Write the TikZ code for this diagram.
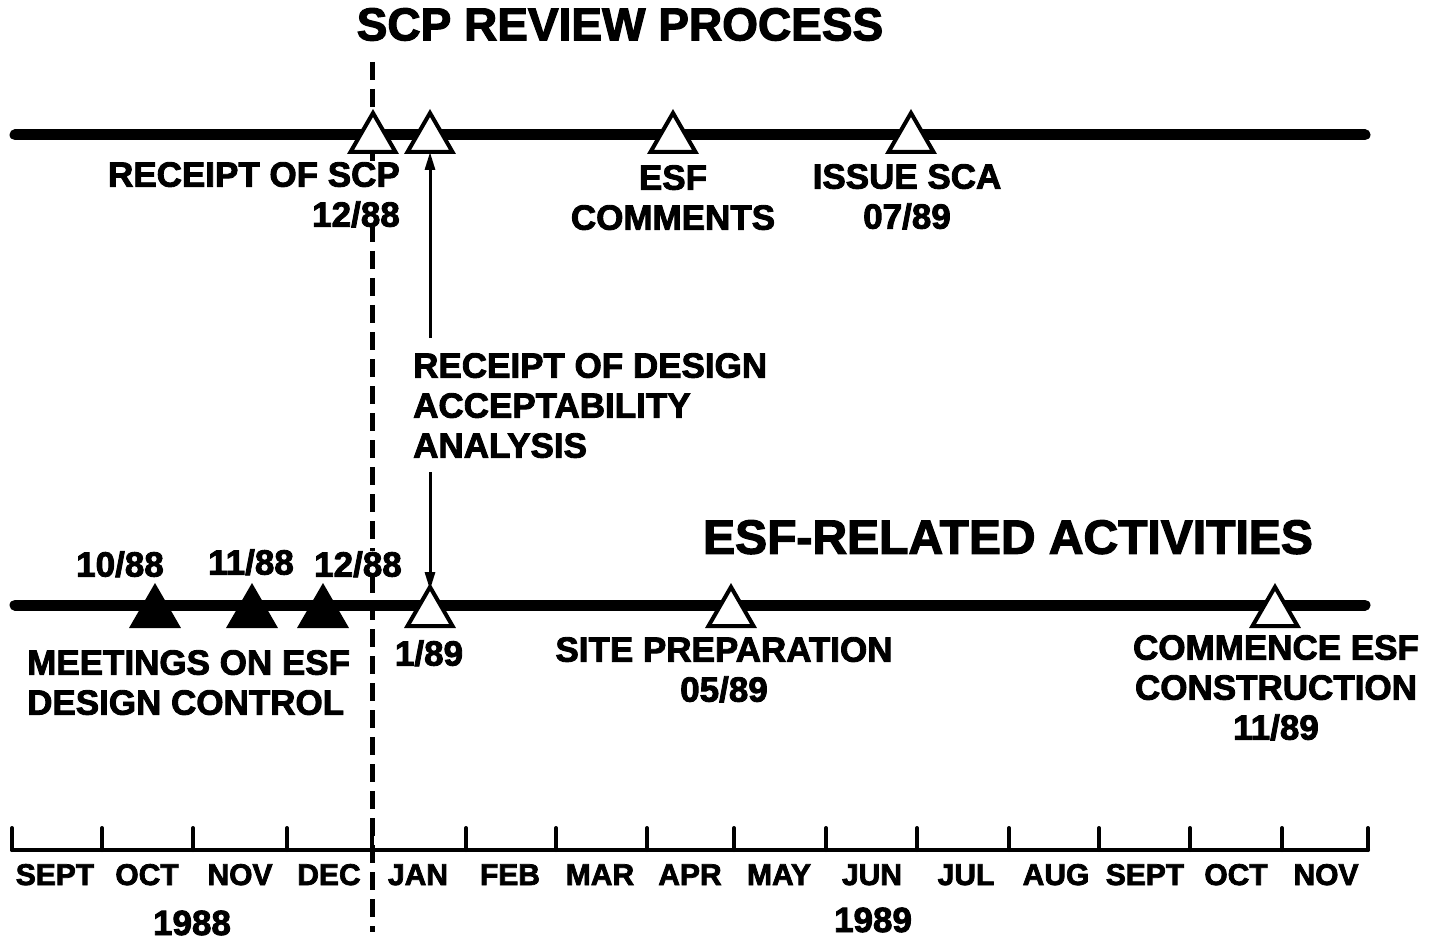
\documentclass[tikz,border=0pt]{standalone}
\usepackage{fontspec}
\setmainfont{Liberation Sans}[BoldFeatures={FakeBold=2.5}]
\usetikzlibrary{shapes.geometric,arrows.meta}
\begin{document}
\begin{tikzpicture}[x=1pt,y=-1pt,
  lab/.style={font=\fontsize{35}{40}\selectfont\bfseries, inner sep=0pt},
  big/.style={font=\fontsize{46}{50}\selectfont\bfseries, inner sep=0pt},
  mon/.style={font=\fontsize{30}{34}\selectfont\bfseries, inner sep=0pt, anchor=base},
  tline/.style={line width=11pt, line cap=round},
  opentri/.style={regular polygon, regular polygon sides=3, minimum size=52pt,
    draw, line width=4pt, fill=white, inner sep=0pt, outer sep=0pt},
  filltri/.style={opentri, fill=black},
  arr/.style={line width=3pt, -{Triangle[length=18pt,width=10pt]}},
  dash line/.style={line width=5pt, dash pattern=on 18pt off 9pt},
  axis/.style={line width=4pt, line cap=round}]
\useasboundingbox (0,0) rectangle (1432,941);

% title
\node[big, anchor=north] (title) at (620,8) {SCP REVIEW PROCESS};
\node[big, anchor=north, font=\fontsize{48}{52}\selectfont\bfseries] (esftitle) at (1008,520) {ESF-RELATED ACTIVITIES};

% dashed line
\coordinate (dTop) at (372,62);
\coordinate (dBot) at (372,932);
\draw[dash line] (dTop) -- (dBot);

% timelines
\coordinate (l1a) at (15,135);
\coordinate (l1b) at (1365,135);
\coordinate (l2a) at (15,605);
\coordinate (l2b) at (1365,605);
\draw[tline] (l1a) -- (l1b);
\draw[tline] (l2a) -- (l2b);

% top triangles
\node[opentri] (tSCP) at (373,139) {};
\node[opentri] (tDA) at (430,139) {};
\node[opentri] (tESF) at (673,139) {};
\node[opentri] (tSCA) at (911,139) {};

% bottom triangles
\node[filltri] (m10) at (155,613) {};
\node[filltri] (m11) at (252,613) {};
\node[filltri] (m12) at (323,613) {};
\node[opentri] (b189) at (430,613) {};
\node[opentri] (bSite) at (731,613) {};
\node[opentri] (bCom) at (1275,613) {};

% top labels
\node[lab, anchor=north east, align=right, fill=white] (lSCP) at (400,162) {RECEIPT OF SCP\\12/88};
\node[lab, anchor=north, align=center] (lESF) at (673,165) {ESF\\COMMENTS};
\node[lab, anchor=north, align=center] (lSCA) at (907,164) {ISSUE SCA\\07/89};

% design acceptability
\node[lab, anchor=north west, align=left] (lDA) at (413,353) {RECEIPT OF DESIGN\\ACCEPTABILITY\\ANALYSIS};
\coordinate (aU) at (430,338);
\coordinate (aD) at (430,472);
\draw[arr] (aU) -- (tDA.side 2);
\draw[arr] (aD) -- ([yshift=-3pt]b189.corner 1);

% bottom labels
\node[lab, anchor=north] (l10) at (120,551) {10/88};
\node[lab, anchor=north] (l11) at (251,549) {11/88};
\node[lab, anchor=north, fill=white] (l12) at (358,551) {12/88};
\node[lab, anchor=north west, align=left] (lMeet) at (27,650) {MEETINGS ON ESF\\DESIGN CONTROL};
\node[lab, anchor=north] (l189) at (429,640) {1/89};
\node[lab, anchor=north, align=center] (lSite) at (724,637) {SITE PREPARATION\\05/89};
\node[lab, anchor=north, align=center] (lCom) at (1276,635) {COMMENCE ESF\\CONSTRUCTION\\11/89};

% axis
\coordinate (axA) at (12,850);
\coordinate (axB) at (1368,850);
\draw[axis] (axA) -- (axB);
\foreach \x in {12,102,193,287,372,466,556,647,734,826,917,1009,1099,1190,1282,1368}
  \draw[axis] (\x,850) -- (\x,828);
\foreach \x/\m in {55/SEPT,147/OCT,240/NOV,329/DEC,418/JAN,510/FEB,600/MAR,690/APR,779/MAY,872/JUN,966/JUL,1056/AUG,1145/SEPT,1236/OCT,1326/NOV}
  \node[mon] (m-\m-\x) at (\x,885) {\m};
\node[lab, anchor=base] (y88) at (192,935) {1988};
\node[lab, anchor=base] (y89) at (873,932) {1989};
\end{tikzpicture}
\end{document}
